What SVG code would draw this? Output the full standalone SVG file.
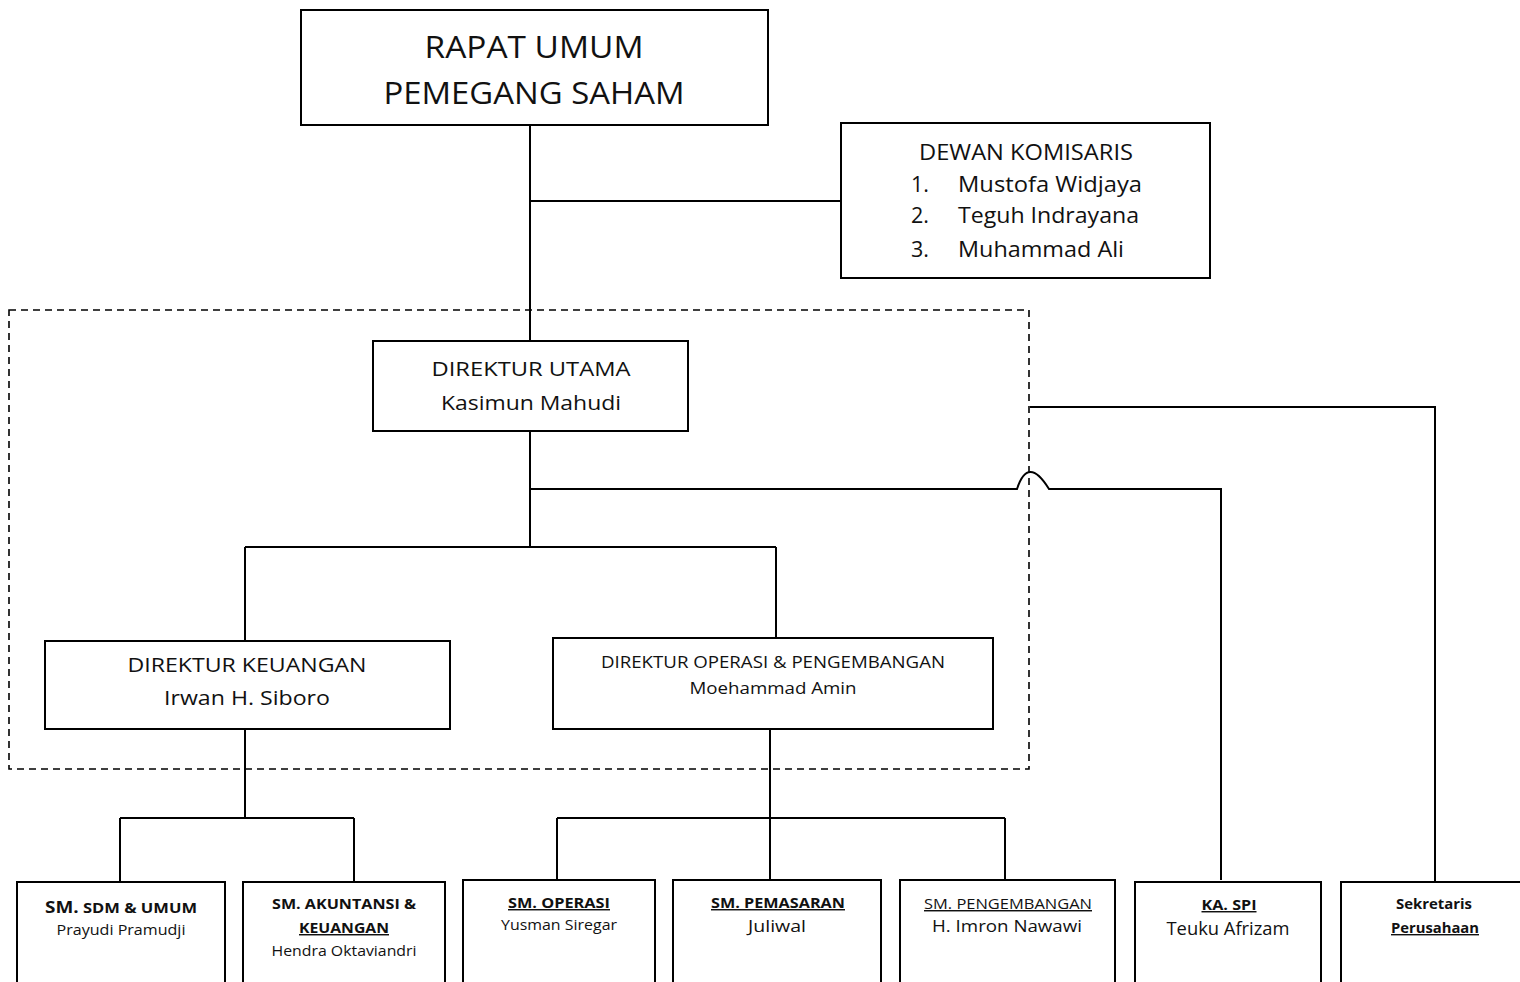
<svg xmlns="http://www.w3.org/2000/svg" width="1520" height="982" viewBox="0 0 1520 982">
<style>
.box{fill:#fff;stroke:#000;stroke-width:2}
.ln{fill:none;stroke:#000;stroke-width:2}
.dash{fill:none;stroke:#000;stroke-width:1.6;stroke-dasharray:7 5}
text{font-family:"Open Sans","Noto Sans","Liberation Sans",sans-serif;fill:#111;text-anchor:middle}
.b{font-weight:bold}
.u{text-decoration:underline}
</style>
<rect x="0" y="0" width="1520" height="982" fill="#fff"/>
<rect class="dash" x="9" y="310" width="1020" height="459"/>
<g id="connectors">
<path class="ln" d="M530 125V341M530 201H841"/>
<path class="ln" d="M530 431V547M245 547H776M245 547V641M776 547V638"/>
<path class="ln" d="M530 489H1017Q1028 455 1049 489H1221V880"/>
<path class="ln" d="M1030 407H1435V882"/>
<path class="ln" d="M245 729V818M120 818H354M120 818V882M354 818V882"/>
<path class="ln" d="M770 729V880M557 818H1005M557 818V880M1005 818V880"/>
</g>
<g id="rups">
<rect class="box" x="301" y="10" width="467" height="115"/>
<text x="534" y="58" font-size="31" textLength="219" lengthAdjust="spacingAndGlyphs">RAPAT UMUM</text>
<text x="534" y="104" font-size="31" textLength="301" lengthAdjust="spacingAndGlyphs">PEMEGANG SAHAM</text>
</g>
<g id="komisaris">
<rect class="box" x="841" y="123" width="369" height="155"/>
<text x="1026" y="160" font-size="21.5" textLength="214" lengthAdjust="spacingAndGlyphs">DEWAN KOMISARIS</text>
<text x="920" y="192" font-size="21.5">1.</text>
<text x="958" y="192" font-size="21.5" style="text-anchor:start" textLength="184" lengthAdjust="spacingAndGlyphs">Mustofa Widjaya</text>
<text x="920" y="223" font-size="21.5">2.</text>
<text x="958" y="223" font-size="21.5" style="text-anchor:start" textLength="181" lengthAdjust="spacingAndGlyphs">Teguh Indrayana</text>
<text x="920" y="257" font-size="21.5">3.</text>
<text x="958" y="257" font-size="21.5" style="text-anchor:start" textLength="166" lengthAdjust="spacingAndGlyphs">Muhammad Ali</text>
</g>
<g id="dirut">
<rect class="box" x="373" y="341" width="315" height="90"/>
<text x="531" y="376" font-size="20.5" textLength="199" lengthAdjust="spacingAndGlyphs">DIREKTUR UTAMA</text>
<text x="531" y="410" font-size="20.5" textLength="180" lengthAdjust="spacingAndGlyphs">Kasimun Mahudi</text>
</g>
<g id="dirkeu">
<rect class="box" x="45" y="641" width="405" height="88"/>
<text x="247" y="672" font-size="20.5" textLength="239" lengthAdjust="spacingAndGlyphs">DIREKTUR KEUANGAN</text>
<text x="247" y="705" font-size="20.5" textLength="166" lengthAdjust="spacingAndGlyphs">Irwan H. Siboro</text>
</g>
<g id="dirops">
<rect class="box" x="553" y="638" width="440" height="91"/>
<text x="773" y="668" font-size="16.5" textLength="344" lengthAdjust="spacingAndGlyphs">DIREKTUR OPERASI &amp; PENGEMBANGAN</text>
<text x="773" y="694" font-size="16.5" textLength="167" lengthAdjust="spacingAndGlyphs">Moehammad Amin</text>
</g>
<g id="sm-sdm">
<rect class="box" x="17" y="882" width="208" height="110"/>
<text x="121" y="913" class="b" textLength="152" lengthAdjust="spacingAndGlyphs"><tspan font-size="16">SM.</tspan><tspan font-size="14"> SDM &amp; UMUM</tspan></text>
<text x="121" y="935" font-size="14.5" textLength="129" lengthAdjust="spacingAndGlyphs">Prayudi Pramudji</text>
</g>
<g id="sm-akuntansi">
<rect class="box" x="243" y="882" width="202" height="110"/>
<text x="344" y="909" class="b" font-size="14.5" textLength="144" lengthAdjust="spacingAndGlyphs">SM. AKUNTANSI &amp;</text>
<text x="344" y="933" class="b u" font-size="14.5" textLength="90" lengthAdjust="spacingAndGlyphs">KEUANGAN</text>
<text x="344" y="956" font-size="14.5" textLength="145" lengthAdjust="spacingAndGlyphs">Hendra Oktaviandri</text>
</g>
<g id="sm-operasi">
<rect class="box" x="463" y="880" width="192" height="112"/>
<text x="559" y="908" class="b u" font-size="14.5" textLength="102" lengthAdjust="spacingAndGlyphs">SM. OPERASI</text>
<text x="559" y="930" font-size="14.5" textLength="116" lengthAdjust="spacingAndGlyphs">Yusman Siregar</text>
</g>
<g id="sm-pemasaran">
<rect class="box" x="673" y="880" width="208" height="112"/>
<text x="778" y="908" class="b u" font-size="14.5" textLength="134" lengthAdjust="spacingAndGlyphs">SM. PEMASARAN</text>
<text x="777" y="932" font-size="17" textLength="58" lengthAdjust="spacingAndGlyphs">Juliwal</text>
</g>
<g id="sm-pengembangan">
<rect class="box" x="900" y="880" width="215" height="112"/>
<text x="1008" y="909" class="u" font-size="14.5" textLength="168" lengthAdjust="spacingAndGlyphs">SM. PENGEMBANGAN</text>
<text x="1007" y="932" font-size="17" textLength="150" lengthAdjust="spacingAndGlyphs">H. Imron Nawawi</text>
</g>
<g id="ka-spi">
<rect class="box" x="1135" y="882" width="186" height="110"/>
<text x="1229" y="910" class="b u" font-size="14.5" textLength="55" lengthAdjust="spacingAndGlyphs">KA. SPI</text>
<text x="1228" y="935" font-size="18" textLength="123" lengthAdjust="spacingAndGlyphs">Teuku Afrizam</text>
</g>
<g id="sekretaris">
<rect class="box" x="1341" y="882" width="190" height="110"/>
<text x="1434" y="909" class="b" font-size="14" textLength="76" lengthAdjust="spacingAndGlyphs">Sekretaris</text>
<text x="1435" y="933" class="b u" font-size="14" textLength="88" lengthAdjust="spacingAndGlyphs">Perusahaan</text>
</g>
</svg>
